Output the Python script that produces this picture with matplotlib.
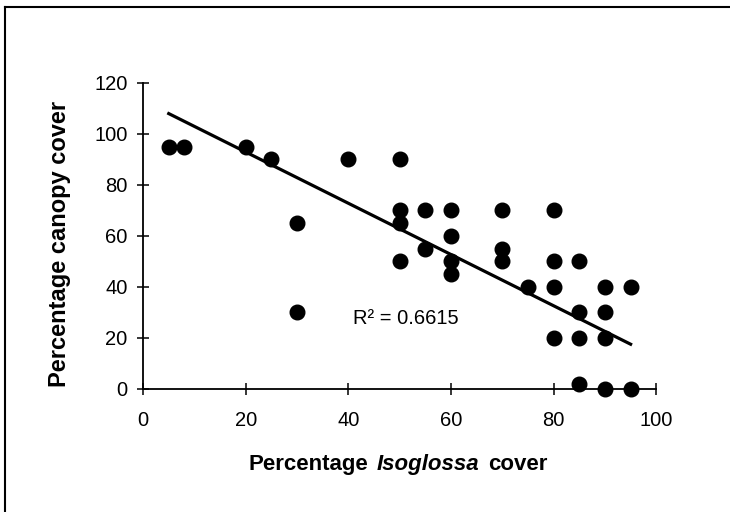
"""Scatter of canopy cover against Isoglossa cover with linear trendline."""
import matplotlib
matplotlib.use("Agg")
import matplotlib.pyplot as plt
import numpy as np
from matplotlib.lines import Line2D
from matplotlib.offsetbox import AnchoredOffsetbox, HPacker, TextArea

plt.rcParams["font.family"] = ["Liberation Sans", "DejaVu Sans"]

# data
isoglossa_cover = [5, 8, 20, 25, 30, 30, 40,
                   50, 50, 50, 50, 55, 55,
                   60, 60, 60, 60, 70, 70, 70, 75,
                   80, 80, 80, 80, 85, 85, 85, 85,
                   90, 90, 90, 90, 95, 95]
canopy_cover = [95, 95, 95, 90, 65, 30, 90,
                90, 70, 65, 50, 70, 55,
                70, 60, 50, 45, 70, 55, 50, 40,
                70, 50, 40, 20, 50, 30, 20, 2,
                40, 30, 20, 0, 40, 0]
# trendline as printed (some points overlap, so a refit differs)
trend_slope = -1.006
trend_intercept = 113.0
r2_label = "R\u00b2 = 0.6615"
x_ticks = [0, 20, 40, 60, 80, 100]
y_ticks = [0, 20, 40, 60, 80, 100, 120]

x = np.array(isoglossa_cover, dtype=float)
y = np.array(canopy_cover, dtype=float)
fit_x = np.array([x.min(), x.max()])
fit_y = trend_slope * fit_x + trend_intercept

fig = plt.figure(figsize=(7.3, 5.12), dpi=100)
ax = fig.add_axes([0.196, 0.241, 0.703, 0.597])

ax.plot(fit_x, fit_y, color="black", lw=2.3, zorder=2)
ax.plot(x, y, "o", color="black", ms=10.5, zorder=3, clip_on=False)

ax.set_xlim(0, 100)
ax.set_ylim(0, 120)
ax.set_xticks(x_ticks)
ax.set_yticks(y_ticks)
ax.spines[["top", "right"]].set_visible(False)
for s in ("left", "bottom"):
    ax.spines[s].set_linewidth(1.3)
ax.tick_params(direction="inout", length=8.5, width=1.1, labelsize=14.5)
ax.tick_params(axis="y", pad=7)
ax.tick_params(axis="x", pad=12)

ax.text(41, 27.5, r2_label, fontsize=14.5, va="center", ha="left")

# axis titles
fig.text(0.081, 0.523, "Percentage canopy cover", rotation=90,
         fontsize=17, fontweight="bold", ha="center", va="center")
parts = [
    TextArea("Percentage", textprops=dict(fontsize=16, fontweight="bold")),
    TextArea("Isoglossa", textprops=dict(fontsize=16, fontweight="bold", style="italic")),
    TextArea("cover", textprops=dict(fontsize=16, fontweight="bold")),
]
xlabel = AnchoredOffsetbox(loc="center", child=HPacker(children=parts, sep=6, pad=0),
                           bbox_to_anchor=(0.545, 0.092), bbox_transform=fig.transFigure,
                           frameon=False, pad=0, borderpad=0)
fig.add_artist(xlabel)

# scanned frame: left and top edges only
fig.add_artist(Line2D([0.007, 0.007], [0.0, 0.986], color="black", lw=1.5,
                      transform=fig.transFigure))
fig.add_artist(Line2D([0.007, 1.0], [0.986, 0.986], color="black", lw=1.5,
                      transform=fig.transFigure))

fig.savefig("out.png", dpi=100)
plt.close(fig)
